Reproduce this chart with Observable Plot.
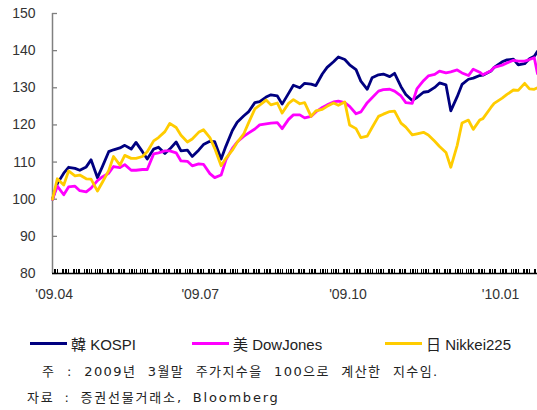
<!DOCTYPE html>
<html><head><meta charset="utf-8">
<script src="https://cdn.jsdelivr.net/npm/d3@7"></script>
<script src="https://cdn.jsdelivr.net/npm/@observablehq/plot@0.6"></script>
<style>
body{margin:0;background:#fff;width:537px;height:410px;overflow:hidden;position:relative;font-family:"Liberation Sans",Arial,sans-serif;}
#chart{position:absolute;left:0;top:0;}
.leg{position:absolute;top:334px;height:18px;font-size:15px;color:#222;display:flex;align-items:center;white-space:nowrap;font-family:"Liberation Sans","Noto Sans CJK KR",sans-serif;}
.leg .sw{display:inline-block;width:37px;height:3px;margin-right:4px}
.note{position:absolute;height:18px;line-height:18px;font-family:"DejaVu Sans","Noto Sans CJK KR",sans-serif;font-size:13px;color:#222;white-space:nowrap;}
#note1{letter-spacing:1.4px;word-spacing:6px;}
#note2{letter-spacing:1.8px;word-spacing:4px;}
</style></head><body>
<div id="chart"></div>
<div id="legend"></div>
<div class="note" id="note1" style="left:42px;top:363px"></div>
<div class="note" id="note2" style="left:27px;top:389px"></div>
<script>
const dates = [
"2009-03-31","2009-04-03","2009-04-07","2009-04-10","2009-04-14","2009-04-17","2009-04-21","2009-04-24",
"2009-04-28","2009-05-01","2009-05-05","2009-05-08","2009-05-12","2009-05-15","2009-05-19","2009-05-22",
"2009-05-26","2009-05-29","2009-06-02","2009-06-05","2009-06-09","2009-06-12","2009-06-16","2009-06-19",
"2009-06-23","2009-06-26","2009-06-30","2009-07-03","2009-07-07","2009-07-10","2009-07-14","2009-07-17",
"2009-07-21","2009-07-24","2009-07-28","2009-07-31","2009-08-04","2009-08-07","2009-08-11","2009-08-14",
"2009-08-18","2009-08-21","2009-08-25","2009-08-28","2009-09-01","2009-09-04","2009-09-08","2009-09-11",
"2009-09-15","2009-09-18","2009-09-22","2009-09-25","2009-09-29","2009-10-02","2009-10-06","2009-10-09",
"2009-10-13","2009-10-16","2009-10-20","2009-10-23","2009-10-27","2009-10-30","2009-11-03","2009-11-06",
"2009-11-10","2009-11-13","2009-11-17","2009-11-20","2009-11-24","2009-11-27","2009-12-01","2009-12-04",
"2009-12-08","2009-12-11","2009-12-15","2009-12-18","2009-12-22","2009-12-24","2009-12-29","2009-12-31",
"2010-01-05","2010-01-08","2010-01-12","2010-01-15","2010-01-19","2010-01-22","2010-01-25","2010-01-27"];

const kospi = [
100,104.2,107,108.6,108.3,107.8,108.7,110.6,
105.8,108.7,112.8,113.3,113.8,114.5,113.5,115.3,
112.8,110.8,113.5,114,112.3,113.5,115.4,113,
113.2,111.5,113.2,114.7,115.6,115.5,110.8,114.3,
118.5,120.7,122.4,123.5,126,126.3,127.5,128.1,
127.8,125.6,128.5,130.7,130,131.2,131,130.6,
133.7,135.5,137,138.3,137.6,136.2,134.9,131.8,
129.6,132.7,133.5,133.7,133,133.9,130.3,128.2,
126.6,127.4,128.8,129,130.1,131.3,130.8,123.8,
127.6,130.9,132.3,132.6,133.3,133.4,134.5,135.5,
137,137.5,137.7,136.2,136.5,137.8,138.5,139.8];

const dowjones = [
100,103.5,101.2,103.3,103.5,102.3,102,103,
105,106,107,108.8,108.5,109.3,107.8,107.8,
108,108,112.2,112.5,113,113,112.5,110.3,
110.2,109,109.5,109.4,106.9,105.8,106.5,110.6,
113.7,115.4,116.9,117.8,118.9,120,120.3,120.5,
120.6,119,121.5,122.7,122.7,121.9,122.3,123.5,
124.7,125.4,126.2,126.4,126,125,123,123.5,
126,127.3,129.1,129.5,129.6,129.1,127.8,126,
125.8,129.8,131.9,133.2,133.6,134.5,134,134.3,
134.8,134,133.3,135,134.2,133.5,134.6,135.5,
136.1,136.7,137.4,137.2,137.2,137.6,138.1,133.8];

const nikkei = [
100,105.5,103.8,107.6,106.3,106.5,105.5,105.4,
102.2,104.5,107.7,111.5,109.2,111.8,111,111,
111.5,112.8,115.7,116.6,118.2,120.4,119.3,117.2,
115.4,116.2,118,118.7,116.6,113.7,109,111,
113.2,115.3,117.5,120.5,124.3,125.3,126.7,125.4,
125.9,123.2,125.8,126.8,125.7,126,122.3,123.8,
124.2,125,125.9,125.3,126.2,120,119,116.6,
117,119.3,122.3,122.9,123.6,123.7,120.5,119.4,
117.3,117.6,118,117.3,115.6,114.2,112.6,108.6,
114.5,120.5,121.3,118.8,121.3,121.7,124.7,125.8,
127.2,128.2,129.4,129.3,131.2,129.7,129.6,130];

const seriesNames = ["韓 KOSPI", "美 DowJones", "日 Nikkei225"];
const seriesColors = ["#000080", "#ff00ff", "#ffcc00"];
const yTicks = [80, 90, 100, 110, 120, 130, 140, 150];
const xTickDates = ["2009-04-01", "2009-07-01", "2009-10-01", "2010-01-04"];
const xTickLabels = ["'09.04", "'09.07", "'09.10", "'10.01"];
const xStart = "2009-03-31", xEnd = "2010-01-27";
const noteText = "주 : 2009년 3월말 주가지수을 100으로 계산한 지수임.";
const sourceText = "자료 : 증권선물거래소, Bloomberg";

const parse = d3.utcParse("%Y-%m-%d");
const allSeries = [kospi, dowjones, nikkei];
const rows = [];
seriesNames.forEach((name, i) => {
  dates.forEach((d, j) => rows.push({date: parse(d), value: allSeries[i][j], series: name}));
});
const weekdays = d3.utcDay.range(parse(xStart), d3.utcDay.offset(parse(xEnd), 1)).filter(d => d.getUTCDay() % 6 !== 0);
const labelMap = new Map(xTickDates.map((d, i) => [+parse(d), xTickLabels[i]]));

const W = 537, H = 310, mL = 52, mR = 0, mT = 13, mB = 37;
const chart = Plot.plot({
  width: W, height: H,
  marginLeft: mL, marginRight: mR, marginTop: mT, marginBottom: mB,
  style: {fontFamily: "'Liberation Sans', Arial, sans-serif", fontSize: "14px", background: "transparent", overflow: "visible"},
  x: {type: "utc", domain: [parse(xStart), parse(xEnd)]},
  y: {domain: [80, 150]},
  color: {domain: seriesNames, range: seriesColors},
  marks: [
    Plot.axisY({ticks: yTicks, tickSize: 0, tickPadding: 17, color: "#333", label: null}),
    Plot.ruleY(yTicks, {stroke: "#808080", strokeWidth: 1.3, insetRight: (W - mL - mR) - 5}),
    Plot.ruleX(weekdays, {stroke: "#000", strokeWidth: 1, shapeRendering: "crispEdges", insetTop: (H - mT - mB) - 4}),
    Plot.axisX({ticks: xTickDates.map(parse), tickSize: 0, tickPadding: 16, tickFormat: d => labelMap.get(+d), color: "#333", label: null}),
    Plot.ruleX([parse(xStart)], {stroke: "#808080", strokeWidth: 1.5}),
    Plot.ruleY([80], {stroke: "#000", strokeWidth: 1.5}),
    Plot.line(rows, {x: "date", y: "value", z: "series", stroke: "series", strokeWidth: 2.8, strokeLinejoin: "round"})
  ]
});
document.getElementById("chart").appendChild(chart);

const legPos = [30, 192, 385];
const legend = document.getElementById("legend");
seriesNames.forEach((name, i) => {
  const item = document.createElement("div");
  item.className = "leg";
  item.style.left = legPos[i] + "px";
  const sw = document.createElement("span");
  sw.className = "sw";
  sw.style.background = seriesColors[i];
  item.appendChild(sw);
  item.appendChild(document.createTextNode(name));
  legend.appendChild(item);
});
document.getElementById("note1").textContent = noteText;
document.getElementById("note2").textContent = sourceText;
</script>
</body></html>
